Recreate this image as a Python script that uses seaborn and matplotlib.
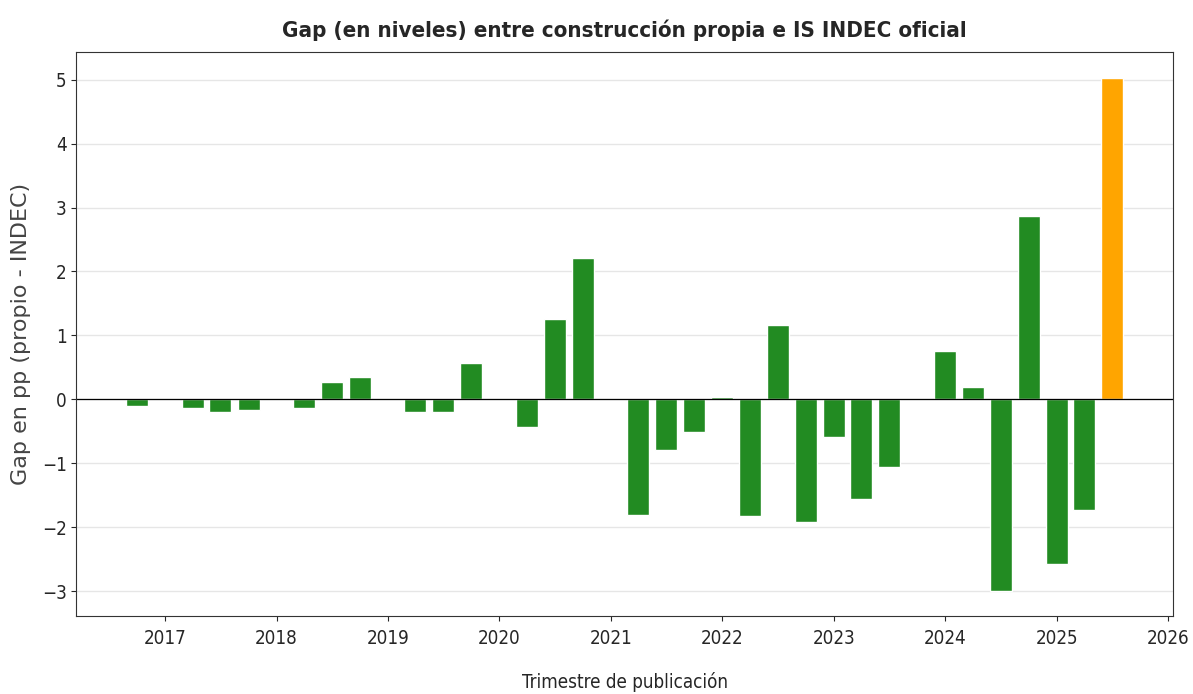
import pandas as pd
import seaborn as sns
import matplotlib.pyplot as plt
import matplotlib.dates as mdates

fechas = [
    "2016-10-01", "2017-01-01", "2017-04-01", "2017-07-01", "2017-10-01",
    "2018-01-01", "2018-04-01", "2018-07-01", "2018-10-01",
    "2019-01-01", "2019-04-01", "2019-07-01", "2019-10-01",
    "2020-01-01", "2020-04-01", "2020-07-01", "2020-10-01",
    "2021-01-01", "2021-04-01", "2021-07-01", "2021-10-01",
    "2022-01-01", "2022-04-01", "2022-07-01", "2022-10-01",
    "2023-01-01", "2023-04-01", "2023-07-01", "2023-10-01",
    "2024-01-01", "2024-04-01", "2024-07-01", "2024-10-01",
    "2025-01-01", "2025-04-01", "2025-07-01",
]
gap = [
    -0.10, 0.0, -0.13, -0.20, -0.17,
    0.0, -0.14, 0.27, 0.35,
    0.0, -0.20, -0.20, 0.57,
    0.0, -0.43, 1.25, 2.21,
    0.0, -1.80, -0.79, -0.51,
    0.03, -1.83, 1.17, -1.91,
    -0.59, -1.55, -1.05, 0.0,
    0.75, 0.19, -2.99, 2.87,
    -2.57, -1.73, 5.03,
]
# el ultimo trimestre va resaltado
tipo = ["historico"] * (len(gap) - 1) + ["ultimo"]

df = pd.DataFrame({"fecha": pd.to_datetime(fechas), "gap": gap, "tipo": tipo})

sns.set_style("ticks")
plt.rcParams["font.family"] = ["DejaVu Sans"]
plt.rcParams["font.stretch"] = "condensed"

fig, ax = plt.subplots(figsize=(11.93, 6.94), dpi=100)
fig.subplots_adjust(left=0.064, right=0.983, top=0.925, bottom=0.112)

sns.barplot(
    data=df, x="fecha", y="gap", hue="tipo", native_scale=True,
    palette={"historico": "forestgreen", "ultimo": "orange"},
    saturation=1, width=0.8, legend=False, ax=ax,
)
ax.axhline(0, color="black", linewidth=0.9)
ax.grid(axis="y", color="#e6e6e6", linewidth=1)
ax.set_axisbelow(True)

ax.xaxis.set_major_locator(mdates.YearLocator())
ax.xaxis.set_major_formatter(mdates.DateFormatter("%Y"))

ax.set_title("Gap (en niveles) entre construcción propia e IS INDEC oficial",
             fontsize=16, fontweight="bold", pad=11)
ax.set_xlabel("Trimestre de publicación", fontsize=13.5, labelpad=17)
ax.set_ylabel("Gap en pp (propio - INDEC)", fontsize=16, fontstretch="normal",
              color="#444444", labelpad=8)
ax.tick_params(labelsize=13.5)
ax.tick_params(axis="x", pad=6)
for s in ax.spines.values():
    s.set_color("#333333")

plt.savefig("out.png", dpi=100)
plt.close()
